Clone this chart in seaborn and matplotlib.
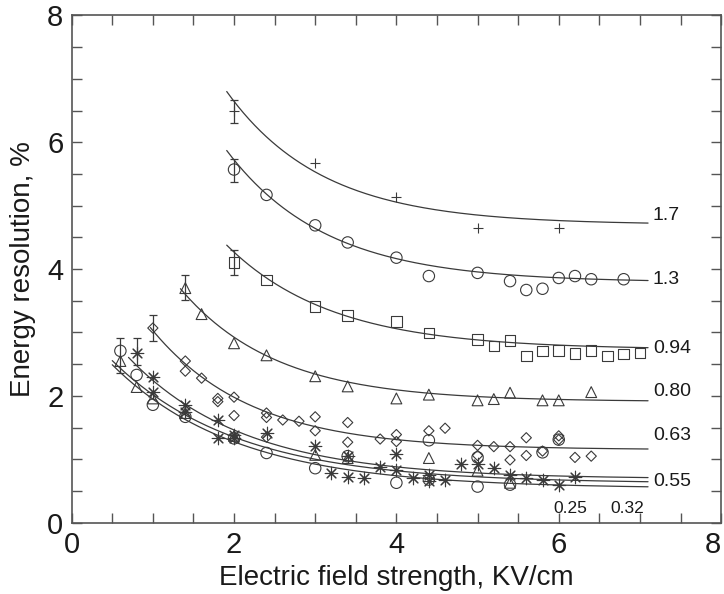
import numpy as np
import pandas as pd
import matplotlib
matplotlib.use("Agg")
import matplotlib.pyplot as plt
from matplotlib.ticker import MultipleLocator
from matplotlib.transforms import ScaledTranslation
import seaborn as sns

# ---------------- data ----------------
# 1.7 series (plus markers)
plus_x = [2.0, 3.0, 4.0, 5.0, 6.0]
plus_y = [6.49, 5.67, 5.13, 4.65, 4.65]

# 1.3 series (open circles)
c13_x = [2.0, 2.4, 3.0, 3.4, 4.0, 4.4, 5.0, 5.4, 5.6, 5.8, 6.0, 6.2, 6.4, 6.8]
c13_y = [5.57, 5.17, 4.69, 4.42, 4.18, 3.89, 3.94, 3.81, 3.67, 3.69, 3.86, 3.89, 3.84, 3.84]

# 0.94 series (open squares)
sq_x = [2.0, 2.4, 3.0, 3.4, 4.0, 4.4, 5.0, 5.2, 5.4, 5.6, 5.8, 6.0, 6.2, 6.4, 6.6, 6.8, 7.0]
sq_y = [4.10, 3.83, 3.41, 3.27, 3.17, 2.99, 2.89, 2.79, 2.87, 2.63, 2.71, 2.72, 2.67, 2.72, 2.63, 2.66, 2.68]

# 0.80 series (open triangles)
tri_x = [1.4, 1.6, 2.0, 2.4, 3.0, 3.4, 4.0, 4.4, 5.0, 5.2, 5.4, 5.8, 6.0, 6.4]
tri_y = [3.70, 3.29, 2.83, 2.64, 2.31, 2.15, 1.96, 2.02, 1.93, 1.95, 2.05, 1.93, 1.93, 2.06]

# 0.63 series (open diamonds)
dia_x = [1.0, 1.4, 1.4, 1.6, 1.8, 1.8, 2.0, 2.0, 2.4, 2.4, 2.4, 2.6, 2.8, 3.0, 3.0, 3.4, 3.4,
         3.8, 4.0, 4.0, 4.4, 4.6, 5.0, 5.0, 5.2, 5.4, 5.4, 5.6, 5.6, 5.8, 6.0, 6.0, 6.2, 6.4]
dia_y = [3.07, 2.55, 2.39, 2.28, 1.96, 1.91, 1.98, 1.69, 1.73, 1.66, 1.35, 1.62, 1.60, 1.67, 1.45, 1.58, 1.27,
         1.32, 1.39, 1.28, 1.45, 1.49, 1.22, 1.06, 1.20, 1.20, 0.99, 1.34, 1.06, 1.13, 1.37, 1.31, 1.03, 1.05]

# low-field series: asterisks
ast_x = [0.8, 1.0, 1.0, 1.4, 1.4, 1.8, 1.8, 2.0, 2.0, 2.4, 3.0, 3.2, 3.4, 3.4, 3.6, 3.8, 4.0, 4.0,
         4.2, 4.4, 4.4, 4.6, 4.8, 5.0, 5.2, 5.4, 5.6, 5.8, 6.0, 6.2]
ast_y = [2.68, 2.30, 2.06, 1.85, 1.75, 1.62, 1.33, 1.38, 1.33, 1.41, 1.21, 0.79, 1.05, 0.72, 0.70, 0.88, 1.08, 0.83,
         0.70, 0.75, 0.66, 0.67, 0.93, 0.93, 0.86, 0.75, 0.70, 0.68, 0.60, 0.72]

# low-field series: open circles
lc_x = [0.6, 0.8, 1.0, 1.4, 2.0, 2.4, 3.0, 3.4, 4.0, 4.4, 4.4, 5.0, 5.0, 5.4, 5.8, 6.0]
lc_y = [2.71, 2.33, 1.86, 1.67, 1.33, 1.10, 0.86, 1.05, 0.63, 1.30, 0.68, 0.57, 1.03, 0.60, 1.11, 1.31]

# low-field series: open triangles
lt_x = [0.6, 0.8, 1.0, 1.4, 2.0, 3.0, 3.4, 4.4, 5.0, 5.4]
lt_y = [2.55, 2.14, 1.96, 1.73, 1.37, 1.07, 1.02, 1.02, 0.82, 0.63]

# error bars
err_x = [2.0, 2.0, 2.0, 1.4, 1.0, 0.8, 0.6]
err_y = [6.48, 5.56, 4.10, 3.71, 3.07, 2.70, 2.64]
err_e = [0.18, 0.18, 0.20, 0.20, 0.20, 0.21, 0.28]

# fitted curves  y = asym + amp * exp(-rate * x), drawn from start to end
curve_names = ["1.7", "1.3", "0.94", "0.80", "0.63", "0.55a", "0.55b", "0.55c"]
curve_start = [1.91, 1.91, 1.91, 1.34, 0.97, 0.70, 0.50, 0.50]
curve_end = [7.1, 7.1, 7.1, 7.1, 7.1, 7.1, 7.1, 7.1]
curve_asym = [4.70, 3.79, 2.73, 1.91, 1.15, 0.69, 0.62, 0.54]
curve_amp = [10.65, 9.96, 7.17, 5.56, 4.27, 3.13, 2.68, 2.70]
curve_rate = [0.85, 0.82, 0.77, 0.85, 0.82, 0.70, 0.65, 0.65]

# curve labels
lab_text = ["1.7", "1.3", "0.94", "0.80", "0.63", "0.55"]
lab_x = [7.16, 7.16, 7.16, 7.16, 7.16, 7.16]
lab_y = [4.85, 3.83, 2.75, 2.07, 1.37, 0.65]
small_text = ["0.25", "0.32"]
small_x = [5.93, 6.64]
small_y = [0.22, 0.22]

x_ticks = [0, 2, 4, 6, 8]
y_ticks = [0, 2, 4, 6, 8]

# ---------------- styling ----------------
sns.set_style("ticks")
plt.rcParams["font.family"] = ["Liberation Sans", "DejaVu Sans"]

C = "#3a3a3a"
fig = plt.figure(figsize=(7.24, 5.94), dpi=100)
ax = fig.add_axes([0.099, 0.120, 0.897, 0.854])

# curves
for s, e, a, b, r in zip(curve_start, curve_end, curve_asym, curve_amp, curve_rate):
    xs = np.linspace(s, e, 300)
    ys = a + b * np.exp(-r * xs)
    sns.lineplot(x=xs, y=ys, color=C, linewidth=0.9, ax=ax, errorbar=None, sort=False)

# error bars
ax.errorbar(err_x, err_y, yerr=err_e, fmt="none", ecolor=C, elinewidth=0.9,
            capsize=2.6, capthick=0.9, zorder=3)

def open_pts(x, y, marker, size):
    sns.scatterplot(x=x, y=y, marker=marker, s=size ** 2, facecolor="none",
                    edgecolor=C, linewidth=0.8, ax=ax, zorder=4)

def line_pts(x, y, marker, size):
    sns.scatterplot(x=x, y=y, marker=marker, s=size ** 2, color=C,
                    linewidth=0.8, ax=ax, zorder=4)

line_pts(plus_x, plus_y, "+", 7.2)
open_pts(c13_x, c13_y, "o", 8.2)
open_pts(sq_x, sq_y, "s", 7.6)
open_pts(tri_x, tri_y, "^", 7.8)
open_pts(dia_x, dia_y, "D", 5.2)
line_pts(ast_x, ast_y, (8, 2, 0), 9.0)
open_pts(lc_x, lc_y, "o", 8.2)
open_pts(lt_x, lt_y, "^", 7.8)

# labels on curves
for t, x, y in zip(lab_text, lab_x, lab_y):
    ax.text(x, y, t, ha="left", va="center", fontsize=14, color="#1a1a1a")
for t, x, y in zip(small_text, small_x, small_y):
    ax.text(x, y, t, ha="left", va="center", fontsize=12.5, color="#1a1a1a")

ax.set_xlim(0, 8)
ax.set_ylim(0, 8)
ax.set_xticks(x_ticks)
ax.set_yticks(y_ticks)
ax.xaxis.set_minor_locator(MultipleLocator(0.5))
ax.yaxis.set_minor_locator(MultipleLocator(0.5))
ax.tick_params(which="both", direction="in", top=True, right=True,
               length=7.5, width=1.0, color="#555555")
ax.tick_params(which="major", labelsize=21, labelcolor="#1a1a1a", pad=6)
for sp in ax.spines.values():
    sp.set_color("#555555")
    sp.set_linewidth(1.2)

ax.set_xlabel("Electric field strength, KV/cm", fontsize=20, color="#1a1a1a", labelpad=4)
ax.set_ylabel("Energy resolution, %", fontsize=20, color="#1a1a1a", labelpad=8)

# keep the last x tick label inside the image
last = ax.get_xticklabels()[-1]
last.set_transform(last.get_transform() + ScaledTranslation(-8 / 100, 0, fig.dpi_scale_trans))

fig.savefig("out.png", dpi=100)
